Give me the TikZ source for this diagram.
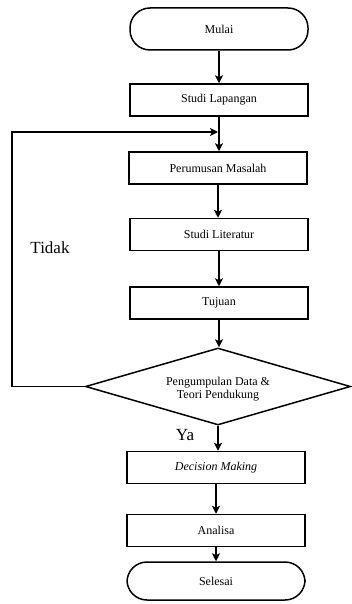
\documentclass[tikz,border=0pt]{standalone}
\usepackage{fontspec}
\setmainfont{Liberation Serif}
\usetikzlibrary{shapes.geometric,arrows.meta}
\begin{document}
\begin{tikzpicture}[x=1pt,y=-1pt,
  box/.style={draw,line width=1.5pt,minimum width=178pt,minimum height=32pt,inner sep=0pt,font=\fontsize{12}{14}\selectfont},
  term/.style={draw,line width=1.5pt,minimum width=178pt,rounded corners=20pt,inner sep=0pt,font=\fontsize{12}{14}\selectfont},
  dec/.style={draw,line width=1.5pt,diamond,aspect=3.44,minimum width=265pt,minimum height=77pt,inner sep=0pt,align=center,font=\fontsize{12}{13}\selectfont},
  arr/.style={line width=1.5pt,-{Stealth[length=8pt,width=8pt,inset=2pt]}},
  lbl/.style={font=\fontsize{17}{19}\selectfont}]
\useasboundingbox (0,0) rectangle (352,604);
\node[term,minimum height=42pt] (mulai) at (219,29) {Mulai};
\node[box] (lap) at (219,100) {Studi Lapangan};
\node[box] (rum) at (218,168) {Perumusan Masalah};
\node[box] (lit) at (219,234.5) {Studi Literatur};
\node[box] (tuj) at (219,303) {Tujuan};
\node[dec] (dia) at (218,386.5) {};
\node[align=center,font=\fontsize{12}{13}\selectfont] (diat) at (218,389) {Pengumpulan Data \&\\Teori Pendukung};
\node[box] (dm) at (216,467.5) {\textit{Decision Making}};
\node[box] (ana) at (216,530.5) {Analisa};
\node[term,minimum height=38pt] (sel) at (216,581) {Selesai};
\node[lbl] (tidak) at (50,248) {Tidak};
\node[lbl] (ya) at (185,435) {Ya};
\coordinate (lp) at (218,132);
\draw[arr] (mulai.south) -- (mulai.south |- lap.north);
\draw[arr] (lap.south) -- (lap.south |- rum.north);
\draw[arr] (rum.south) -- (rum.south |- lit.north);
\draw[arr] (lit.south) -- (lit.south |- tuj.north);
\draw[arr] (tuj.south) -- (tuj.south |- dia.north);
\draw[arr] (dia.south) -- (dia.south |- dm.north);
\draw[arr] (dm.south) -- (dm.south |- ana.north);
\draw[arr] (ana.south) -- (ana.south |- sel.north);
\draw[arr] (dia.west) -- (12,386.5) -- (12,132) -- (lp);
\end{tikzpicture}
\end{document}
